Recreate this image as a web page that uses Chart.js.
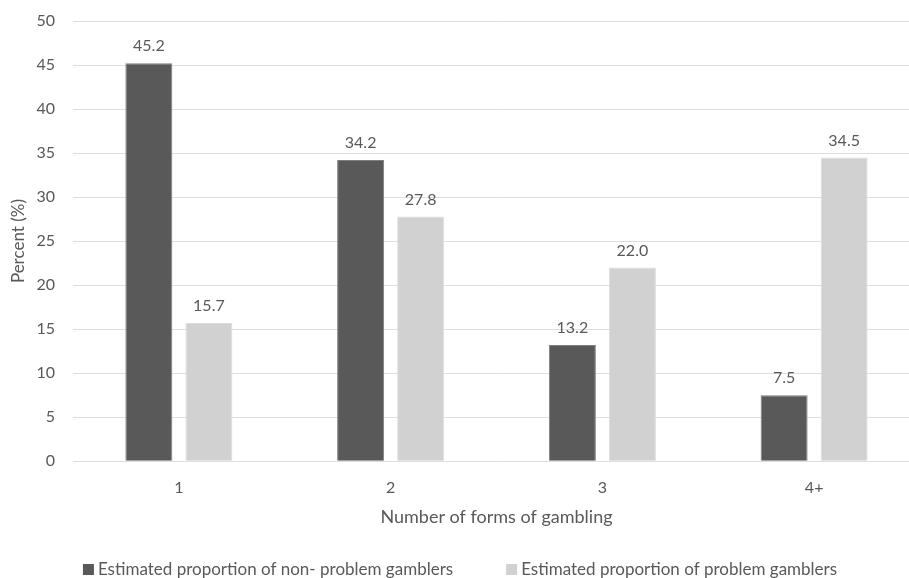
<!DOCTYPE html>
<html>
<head>
<meta charset="utf-8">
<script src="https://cdn.jsdelivr.net/npm/chart.js@4"></script>
<style>
  html, body { margin: 0; padding: 0; background: #fff; overflow: hidden; }
  #chart { display: block; }
</style>
</head>
<body>
<canvas id="chart" width="920" height="578"></canvas>
<script>
var categories = ['1', '2', '3', '4+'];
var nonProblem = [45.2, 34.2, 13.2, 7.5];
var problem = [15.7, 27.8, 22.0, 34.5];
var seriesNames = ['Estimated proportion of non- problem gamblers', 'Estimated proportion of problem gamblers'];

var FONT = 'Lato, "Liberation Sans", sans-serif';
var TEXT = '#595959';

// value labels over each bar
var barLabels = {
    id: 'barLabels',
    afterDatasetsDraw: function(chart) {
        var ctx = chart.ctx;
        ctx.save();
        ctx.font = '16px ' + FONT;
        ctx.fillStyle = TEXT;
        ctx.textAlign = 'center';
        ctx.textBaseline = 'bottom';
        chart.data.datasets.forEach(function(ds, i) {
            chart.getDatasetMeta(i).data.forEach(function(bar, j) {
                ctx.fillText(ds.data[j].toFixed(1), bar.x, bar.y - 9);
            });
        });
        ctx.restore();
    }
};

// legend row along the bottom edge, square swatches
var bottomLegend = {
    id: 'bottomLegend',
    afterDraw: function(chart) {
        var ctx = chart.ctx;
        var box = 11, gapText = 4, gapItem = 53, y = 569;
        ctx.save();
        ctx.font = '17px ' + FONT;
        ctx.textBaseline = 'middle';
        ctx.textAlign = 'left';
        var items = chart.data.datasets.map(function(ds) {
            return { text: ds.label, color: ds.backgroundColor, w: ctx.measureText(ds.label).width };
        });
        var total = 0;
        items.forEach(function(it, i) {
            total += box + gapText + it.w + (i > 0 ? gapItem : 0);
        });
        var x = chart.width / 2 - total / 2;
        items.forEach(function(it) {
            ctx.fillStyle = it.color;
            ctx.fillRect(x, y - 5, box, box);
            ctx.fillStyle = TEXT;
            ctx.fillText(it.text, x + box + gapText, y + 1);
            x += box + gapText + it.w + gapItem;
        });
        ctx.restore();
    }
};

var context = document.getElementById('chart').getContext('2d');
var gamblingChart = new Chart(context, {
    type: 'bar',
    data: {
        labels: categories,
        datasets: [
            {
                label: seriesNames[0],
                data: nonProblem,
                backgroundColor: '#595959',
                borderColor: '#7f7f7f',
                borderWidth: 1,
                categoryPercentage: 0.567,
                barPercentage: 0.783
            },
            {
                label: seriesNames[1],
                data: problem,
                backgroundColor: '#d0d1d0',
                borderColor: '#dcdcdc',
                borderWidth: 1,
                categoryPercentage: 0.567,
                barPercentage: 0.783
            }
        ]
    },
    options: {
        responsive: false,
        animation: false,
        layout: { padding: { top: 0, left: 8, right: 0, bottom: 50 } },
        plugins: {
            tooltip: { enabled: false },
            legend: { display: false }
        },
        scales: {
            x: {
                grid: { display: false, drawTicks: false },
                border: { display: false },
                ticks: { color: TEXT, font: { family: FONT, size: 16 }, padding: 17 },
                title: {
                    display: true,
                    text: 'Number of forms of gambling',
                    color: TEXT,
                    font: { family: FONT, size: 18 },
                    padding: { top: -8, bottom: 0 }
                }
            },
            y: {
                min: 0,
                max: 50,
                afterFit: function(scale) {
                    scale.width = 65;
                    scale.paddingTop = 21;
                },
                ticks: { stepSize: 5, color: TEXT, font: { family: FONT, size: 16 }, padding: 18 },
                grid: { color: '#dedede', lineWidth: 1, drawTicks: false },
                border: { display: false },
                title: {
                    display: true,
                    text: 'Percent (%)',
                    color: TEXT,
                    font: { family: FONT, size: 17 },
                    padding: { top: 0, bottom: 0 }
                }
            }
        }
    },
    plugins: [barLabels, bottomLegend]
});
</script>
</body>
</html>
